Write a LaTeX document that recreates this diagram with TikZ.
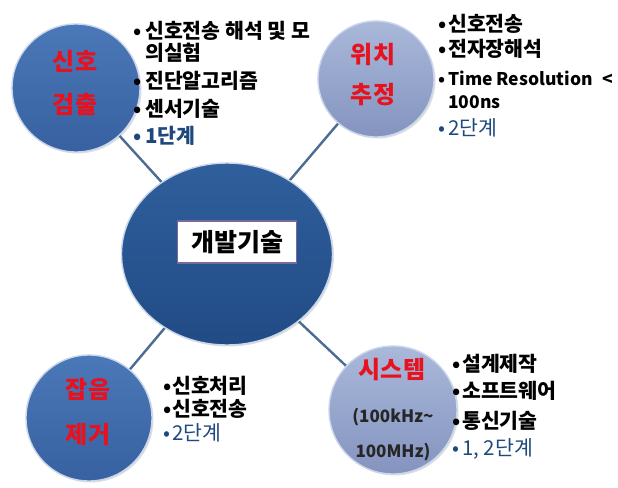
\documentclass[tikz,border=0pt]{standalone}
\usepackage{fontspec}
\setmainfont{Noto Sans CJK KR}
\usetikzlibrary{shapes.geometric,shadows,backgrounds}
\definecolor{hubtop}{HTML}{2F5F9C}
\definecolor{hubbot}{HTML}{214B85}
\definecolor{darktop}{HTML}{4B78B8}
\definecolor{darkbot}{HTML}{3761A0}
\definecolor{lighttop}{HTML}{AAB8DA}
\definecolor{lightbot}{HTML}{8494BF}
\definecolor{rim}{HTML}{C9D6EC}
\definecolor{linkc}{HTML}{4C6C92}
\definecolor{labred}{HTML}{E8111E}
\definecolor{stepblue}{HTML}{1F497D}
\definecolor{boxedge}{HTML}{7A6A9C}
\newcommand\bt[1]{\makebox[#1][l]{•}}
\begin{document}
\begin{tikzpicture}[x=1pt,y=-1pt,
  ball/.style={circle, inner sep=0, draw=rim, line width=1.4pt,
    drop shadow={opacity=0.25, shadow xshift=1.5pt, shadow yshift=-1.5pt}},
  darkball/.style={ball, top color=darktop, bottom color=darkbot},
  lightball/.style={ball, top color=lighttop, bottom color=lightbot},
  hubshape/.style={ellipse, inner sep=0, draw=rim, line width=1.4pt,
    top color=hubtop, bottom color=hubbot,
    drop shadow={opacity=0.25, shadow xshift=1.5pt, shadow yshift=-1.5pt}},
  redlab/.style={text=labred, font=\fontsize{24}{24}\selectfont\bfseries,
    inner sep=0, text height=0.78em, text depth=0.06em},
  sublab/.style={text=black!85, font=\fontsize{17}{17}\selectfont\bfseries,
    inner sep=0, text height=0.72em, text depth=0.2em},
  item/.style={anchor=west, inner sep=0, font=\fontsize{20.5}{20.5}\selectfont\bfseries,
    text height=0.78em, text depth=0.06em},
  latinitem/.style={item, font=\fontsize{17.5}{17.5}\selectfont\bfseries},
  stepitem/.style={item, text=stepblue},
  stepthin/.style={stepitem, font=\fontsize{20.5}{20.5}\selectfont},
  link/.style={draw=linkc, line width=2.4pt}
]
\useasboundingbox (0,0) rectangle (618,487);

% central node
\node[hubshape, minimum width=211pt, minimum height=182pt] (hub) at (227,254) {};
\node[draw=boxedge, line width=1.8pt, fill=white, minimum width=119pt, minimum height=42pt,
      inner sep=0, font=\fontsize{25}{25}\selectfont\bfseries] (hublab) at (237,242) {개발기술};

% satellites
\node[darkball, minimum size=128pt] (s1) at (76,88) {};
\node[lightball, minimum size=116pt] (s2) at (376,79) {};
\node[darkball, minimum size=126pt] (s3) at (89,418) {};
\node[lightball, minimum size=128pt] (s4) at (393,410) {};

% connectors
\begin{scope}[on background layer]
  \draw[link] (hub.center) -- (s1.center);
  \draw[link] (hub.center) -- (s2.center);
  \draw[link] (hub.center) -- (s3.center);
  \draw[link] (hub.center) -- (s4.center);
\end{scope}

% red labels
\node[redlab] (s1a) at (75,67) {신호};
\node[redlab] (s1b) at (75,110) {검출};
\node[redlab] (s2a) at (373,60) {위치};
\node[redlab] (s2b) at (373,100) {추정};
\node[redlab] (s3a) at (88,395) {잡음};
\node[redlab] (s3b) at (88,440) {제거};
\node[redlab] (s4a) at (392,375) {시스템};
\node[sublab] (s4b) at (393,420) {(100kHz\char"007E};
\node[sublab] (s4c) at (393,455) {100MHz)};

% top-left list
\node[item] (l1a) at (133,35) {\bt{12pt}신호전송 해석 및 모};
\node[item] (l1b) at (145,57) {의실험};
\node[item] (l1c) at (133,85) {\bt{12pt}진단알고리즘};
\node[item] (l1d) at (133,113) {\bt{12pt}센서기술};
\node[stepitem] (l1e) at (133,140) {\bt{12pt}1단계};

% top-right list
\node[item] (l2a) at (438,28) {\bt{10pt}신호전송};
\node[item] (l2b) at (438,53) {\bt{10pt}전자장해석};
\node[latinitem] (l2c) at (438,82) {\bt{10pt}Time Resolution\hspace{6pt} <};
\node[latinitem] (l2d) at (448,105) {100ns};
\node[stepthin] (l2e) at (438,132) {\bt{10pt}2단계};

% bottom-left list
\node[item] (l3a) at (163,390) {\bt{9pt}신호처리};
\node[item] (l3b) at (163,413) {\bt{9pt}신호전송};
\node[stepthin] (l3c) at (163,437) {\bt{9pt}2단계};

% bottom-right list
\node[item] (l4a) at (452,368) {\bt{10pt}설계제작};
\node[item] (l4b) at (452,395) {\bt{10pt}소프트웨어};
\node[item] (l4c) at (452,425) {\bt{10pt}통신기술};
\node[stepthin] (l4d) at (452,452) {\bt{10pt}1, 2단계};
\end{tikzpicture}
\end{document}
